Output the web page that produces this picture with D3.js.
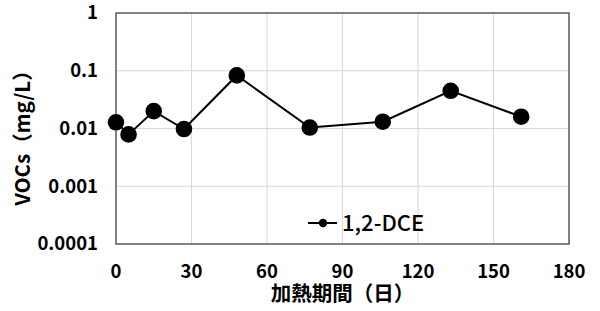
<!DOCTYPE html>
<html>
<head>
<meta charset="utf-8">
<script src="https://cdn.jsdelivr.net/npm/d3@7"></script>
<style>
  html, body { margin: 0; padding: 0; background: #fff; }
  svg { display: block; }
</style>
</head>
<body>
<div id="chart"></div>
<script>
const DAYS = [0, 5, 15, 27, 48, 77, 106, 133, 161];
const DCE  = [0.0128, 0.0079, 0.020, 0.0098, 0.083, 0.0104, 0.0131, 0.045, 0.016];
const X_TICKS = [0, 30, 60, 90, 120, 150, 180];
const Y_TICKS = [0.0001, 0.001, 0.01, 0.1, 1];
const SERIES_NAME = "1,2-DCE";
const X_TITLE = "加熱期間（日）";
const Y_TITLE = "VOCs（mg/L）";

const W = 600, H = 311;
const M = { top: 13, right: 31, bottom: 67, left: 116 };
const FONT = "'Noto Sans CJK JP', 'Noto Sans', sans-serif";

const svg = d3.select("#chart").append("svg")
  .attr("width", W).attr("height", H);

const innerW = W - M.left - M.right;
const innerH = H - M.top - M.bottom;

const x = d3.scaleLinear().domain([0, 180]).range([0, innerW]);
const y = d3.scaleLog().domain([0.0001, 1]).range([innerH, 0]);

const g = svg.append("g").attr("transform", `translate(${M.left},${M.top})`);

// gridlines
g.append("g").selectAll("line")
  .data(X_TICKS.slice(1, -1))
  .join("line")
  .attr("x1", d => x(d)).attr("x2", d => x(d))
  .attr("y1", 0).attr("y2", innerH)
  .attr("stroke", "#d9d9d9").attr("stroke-width", 1);

g.append("g").selectAll("line")
  .data(Y_TICKS.slice(1, -1))
  .join("line")
  .attr("x1", 0).attr("x2", innerW)
  .attr("y1", d => y(d)).attr("y2", d => y(d))
  .attr("stroke", "#d9d9d9").attr("stroke-width", 1);

// frame
g.append("rect")
  .attr("x", 0).attr("y", 0)
  .attr("width", innerW).attr("height", innerH)
  .attr("fill", "none")
  .attr("stroke", "#404040").attr("stroke-width", 1.3);

// tick labels
g.append("g").selectAll("text")
  .data(X_TICKS)
  .join("text")
  .attr("x", d => x(d))
  .attr("y", innerH + 34)
  .attr("text-anchor", "middle")
  .attr("font-family", FONT)
  .attr("font-weight", "bold")
  .attr("font-size", "18.5px")
  .attr("fill", "#000")
  .text(d => d);

g.append("g").selectAll("text")
  .data(Y_TICKS)
  .join("text")
  .attr("x", -18)
  .attr("y", d => y(d))
  .attr("dy", "0.35em")
  .attr("text-anchor", "end")
  .attr("font-family", FONT)
  .attr("font-weight", "bold")
  .attr("font-size", "18.5px")
  .attr("fill", "#000")
  .text(d => String(d));

// axis titles
svg.append("text")
  .attr("x", M.left + x(90))
  .attr("y", 301)
  .attr("text-anchor", "middle")
  .attr("font-family", FONT)
  .attr("font-weight", "bold")
  .attr("font-size", "20.5px")
  .text(X_TITLE);

svg.append("text")
  .attr("transform", `translate(30,133) rotate(-90)`)
  .attr("text-anchor", "middle")
  .attr("font-family", FONT)
  .attr("font-weight", "bold")
  .attr("font-size", "20.5px")
  .text(Y_TITLE);

// series
const pts = DAYS.map((d, i) => [d, DCE[i]]);

g.append("path")
  .datum(pts)
  .attr("d", d3.line().x(d => x(d[0])).y(d => y(d[1])))
  .attr("fill", "none")
  .attr("stroke", "#000")
  .attr("stroke-width", 2);

g.append("g").selectAll("circle")
  .data(pts)
  .join("circle")
  .attr("cx", d => x(d[0]))
  .attr("cy", d => y(d[1]))
  .attr("r", 8.3)
  .attr("fill", "#000");

// legend
const lg = svg.append("g").attr("transform", "translate(308,223)");
lg.append("line")
  .attr("x1", 0).attr("x2", 29)
  .attr("y1", 0).attr("y2", 0)
  .attr("stroke", "#000").attr("stroke-width", 2);
lg.append("circle")
  .attr("cx", 15).attr("cy", 0).attr("r", 4.2)
  .attr("fill", "#000");
lg.append("text")
  .attr("x", 34).attr("y", 0)
  .attr("dy", "0.36em")
  .attr("font-family", FONT)
  .attr("font-weight", "500")
  .attr("font-size", "22px")
  .text(SERIES_NAME);
</script>
</body>
</html>
